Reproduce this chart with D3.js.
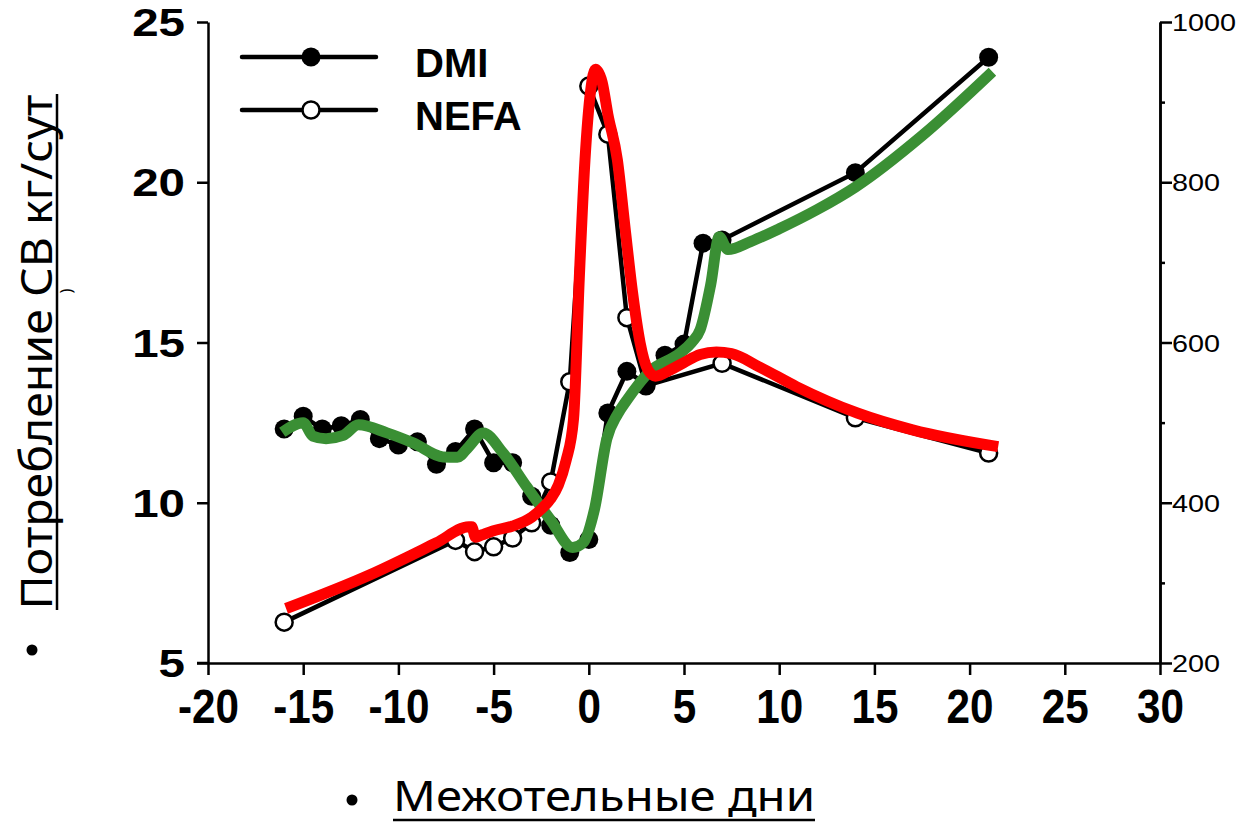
<!DOCTYPE html>
<html>
<head>
<meta charset="utf-8">
<script src="https://cdn.jsdelivr.net/npm/d3@7"></script>
<style>
  body { margin: 0; background: #fff; }
  svg { display: block; }
</style>
</head>
<body>
<svg id="chart" width="1247" height="823"></svg>
<script>
// days relative to calving
var dmiDays = [-16, -15, -14, -13, -12, -11, -10, -9, -8, -7, -6, -5, -4, -3, -2, -1, 0, 1, 2, 3, 4, 5, 6, 7, 14, 21];
var dmiVals = [12.3, 12.7, 12.3, 12.4, 12.6, 12.0, 11.8, 11.9, 11.2, 11.6, 12.3, 11.25, 11.25, 10.2, 9.3, 8.45, 8.85, 12.8, 14.1, 13.7, 14.6, 14.95, 18.1, 18.2, 20.3, 23.9];

var nefaDays = [-16, -7, -6, -5, -4, -3, -2, -1, 0, 1, 2, 3, 7, 14, 21];
var nefaVals = [251, 353, 339, 345, 356, 375, 426, 551, 920, 860, 631, 546, 574, 506, 462];

// smoothed NEFA trend (red), right axis
var redDays = [-15.9, -11.5, -8, -6.3, -6.15, -5.95, -5.6, -5, -4, -3, -2.5, -2, -1.6, -1.2, -0.8, -0.5, -0.2, 0.1, 0.35, 0.7, 1.0, 1.5, 1.9, 2.3, 2.7, 3.1, 3.5, 4.3, 5, 5.85, 6.7, 7.5, 9, 10.9, 14.1, 17, 21.5];
var redVals = [268, 310, 350, 370, 370, 357, 360, 365, 371, 382, 392, 405, 422, 452, 505, 680, 828, 915, 941, 925, 885, 828, 744, 662, 599, 566, 558, 566, 575, 585, 588, 586, 569, 545, 512, 491, 470];

// smoothed DMI trend (green), left axis
var greenDays = [-16.1, -15.0, -14.5, -13.8, -12.9, -12.1, -10.6, -9.2, -7.65, -6.9, -6.3, -5.55, -4.5, -3.25, -2.0, -0.85, -0.3, 0.3, 0.95, 1.5, 2.0, 3.2, 4.8, 5.4, 5.85, 6.4, 6.85, 7.3, 8.5, 10, 12, 14, 17.5, 21.2];
var greenVals = [12.2, 12.5, 12.08, 12.0, 12.1, 12.43, 12.18, 11.86, 11.43, 11.42, 11.75, 12.18, 11.55, 10.49, 9.46, 8.6, 8.75, 9.8, 12.0, 12.75, 13.2, 14.1, 14.67, 15.0, 15.4, 16.8, 18.3, 17.9, 18.15, 18.55, 19.15, 19.85, 21.45, 23.45];

var xTicks = [-20, -15, -10, -5, 0, 5, 10, 15, 20, 25, 30];
var leftTicks = [5, 10, 15, 20, 25];
var rightTicks = [200, 400, 600, 800, 1000];
var rightMinor = [300, 500, 700, 900];

var legendNames = ["DMI", "NEFA"];

var svg = d3.select("#chart");

var x = d3.scaleLinear().domain([-20, 30]).range([208, 1160]);
var yL = d3.scaleLinear().domain([5, 25]).range([663, 22]);
var yR = d3.scaleLinear().domain([200, 1000]).range([663, 22]);

var numFont = "'Liberation Sans', Arial, sans-serif";
var plain = function(d) { return String(d); };

// axes
var gx = svg.append("g")
  .attr("transform", "translate(0,663)")
  .call(d3.axisBottom(x).tickValues(xTicks).tickFormat(plain).tickSize(12).tickSizeOuter(0).tickPadding(14));
gx.selectAll("text")
  .style("font", "bold 48px " + numFont)
  .attr("dy", "0.71em")
  .attr("transform", "scale(0.88,1)");

var gl = svg.append("g")
  .attr("transform", "translate(208,0)")
  .call(d3.axisLeft(yL).tickValues(leftTicks).tickFormat(plain).tickSize(11).tickSizeOuter(0));
gl.selectAll("text")
  .style("font", "bold 38px " + numFont)
  .attr("x", -23 / 1.25)
  .attr("dy", "0.36em")
  .attr("transform", "scale(1.25,1)");

var gr = svg.append("g")
  .attr("transform", "translate(1160,0)")
  .call(d3.axisRight(yR).tickValues(rightTicks).tickFormat(plain).tickSize(12).tickSizeOuter(0));
gr.selectAll("text")
  .style("font", "24px " + numFont)
  .attr("x", 12 / 1.2)
  .attr("dy", "0.36em")
  .attr("transform", "scale(1.2,1)");

var grm = svg.append("g")
  .attr("transform", "translate(1160,0)")
  .call(d3.axisRight(yR).tickValues(rightMinor).tickSize(5).tickSizeOuter(0).tickFormat(""));

svg.selectAll(".domain").attr("stroke", "#000").attr("stroke-width", 2.5);
svg.selectAll(".tick line").attr("stroke", "#000").attr("stroke-width", 2.5);
// left tick at 5 runs into the bottom axis line
svg.append("line")
  .attr("x1", 197).attr("x2", 208)
  .attr("y1", yL(5)).attr("y2", yL(5))
  .attr("stroke", "#000").attr("stroke-width", 2.5);

// raw series
var dmi = dmiDays.map(function(d, i) { return [d, dmiVals[i]]; });
var nefa = nefaDays.map(function(d, i) { return [d, nefaVals[i]]; });

var lineL = d3.line().x(function(d) { return x(d[0]); }).y(function(d) { return yL(d[1]); });
var lineR = d3.line().x(function(d) { return x(d[0]); }).y(function(d) { return yR(d[1]); });

svg.append("path").datum(nefa)
  .attr("d", lineR).attr("fill", "none").attr("stroke", "#000").attr("stroke-width", 4.5);
svg.append("path").datum(dmi)
  .attr("d", lineL).attr("fill", "none").attr("stroke", "#000").attr("stroke-width", 4.5);

svg.selectAll(".nefa-pt").data(nefa).enter().append("circle")
  .attr("cx", function(d) { return x(d[0]); })
  .attr("cy", function(d) { return yR(d[1]); })
  .attr("r", 8.5)
  .attr("fill", "#fff").attr("stroke", "#000").attr("stroke-width", 2.5);

svg.selectAll(".dmi-pt").data(dmi).enter().append("circle")
  .attr("cx", function(d) { return x(d[0]); })
  .attr("cy", function(d) { return yL(d[1]); })
  .attr("r", 9.5)
  .attr("fill", "#000");

// smoothed trends
var green = greenDays.map(function(d, i) { return [d, greenVals[i]]; });
var red = redDays.map(function(d, i) { return [d, redVals[i]]; });

svg.append("path").datum(green)
  .attr("d", lineL.curve(d3.curveMonotoneX))
  .attr("fill", "none").attr("stroke", "#3a8f34").attr("stroke-width", 11)
  .attr("stroke-linejoin", "round");

svg.append("path").datum(red)
  .attr("d", lineR.curve(d3.curveMonotoneX))
  .attr("fill", "none").attr("stroke", "#ff0000").attr("stroke-width", 11)
  .attr("stroke-linejoin", "round");

// legend
var leg = svg.append("g");
legendNames.forEach(function(name, i) {
  var ly = 57 + i * 53;
  leg.append("line")
    .attr("x1", 242).attr("x2", 376).attr("y1", ly).attr("y2", ly)
    .attr("stroke", "#000").attr("stroke-width", 4.5).attr("stroke-linecap", "round");
  leg.append("circle")
    .attr("cx", 311).attr("cy", ly)
    .attr("r", i == 0 ? 9.5 : 8.5)
    .attr("fill", i == 0 ? "#000" : "#fff")
    .attr("stroke", "#000").attr("stroke-width", i == 0 ? 0 : 2.5);
  leg.append("text")
    .attr("x", 415).attr("y", ly + 20)
    .style("font", "bold 40px " + numFont)
    .text(name);
});

// axis titles (slide bullets drawn as dots)
var titleFont = "'Noto Sans', 'Open Sans', sans-serif";
var yt = svg.append("g").attr("transform", "translate(52,352) rotate(-90)");
yt.append("text")
  .attr("text-anchor", "middle")
  .attr("textLength", 515).attr("lengthAdjust", "spacingAndGlyphs")
  .style("font", "44px " + titleFont)
  .text("Потребление СВ кг/сут");
yt.append("line")
  .attr("x1", -258).attr("x2", 258).attr("y1", 5).attr("y2", 5)
  .attr("stroke", "#000").attr("stroke-width", 2.5);
svg.append("circle").attr("cx", 32).attr("cy", 650).attr("r", 5.5).attr("fill", "#000");
svg.append("text")
  .attr("transform", "translate(72,291) rotate(-90)")
  .attr("text-anchor", "middle")
  .style("font", "16px " + titleFont)
  .text(")");

svg.append("circle").attr("cx", 352).attr("cy", 800).attr("r", 5.5).attr("fill", "#000");
svg.append("text")
  .attr("x", 393).attr("y", 811)
  .attr("textLength", 422).attr("lengthAdjust", "spacingAndGlyphs")
  .style("font", "42px " + titleFont)
  .text("Межотельные дни");
svg.append("line")
  .attr("x1", 393).attr("x2", 815).attr("y1", 820).attr("y2", 820)
  .attr("stroke", "#000").attr("stroke-width", 2.5);
</script>
</body>
</html>
